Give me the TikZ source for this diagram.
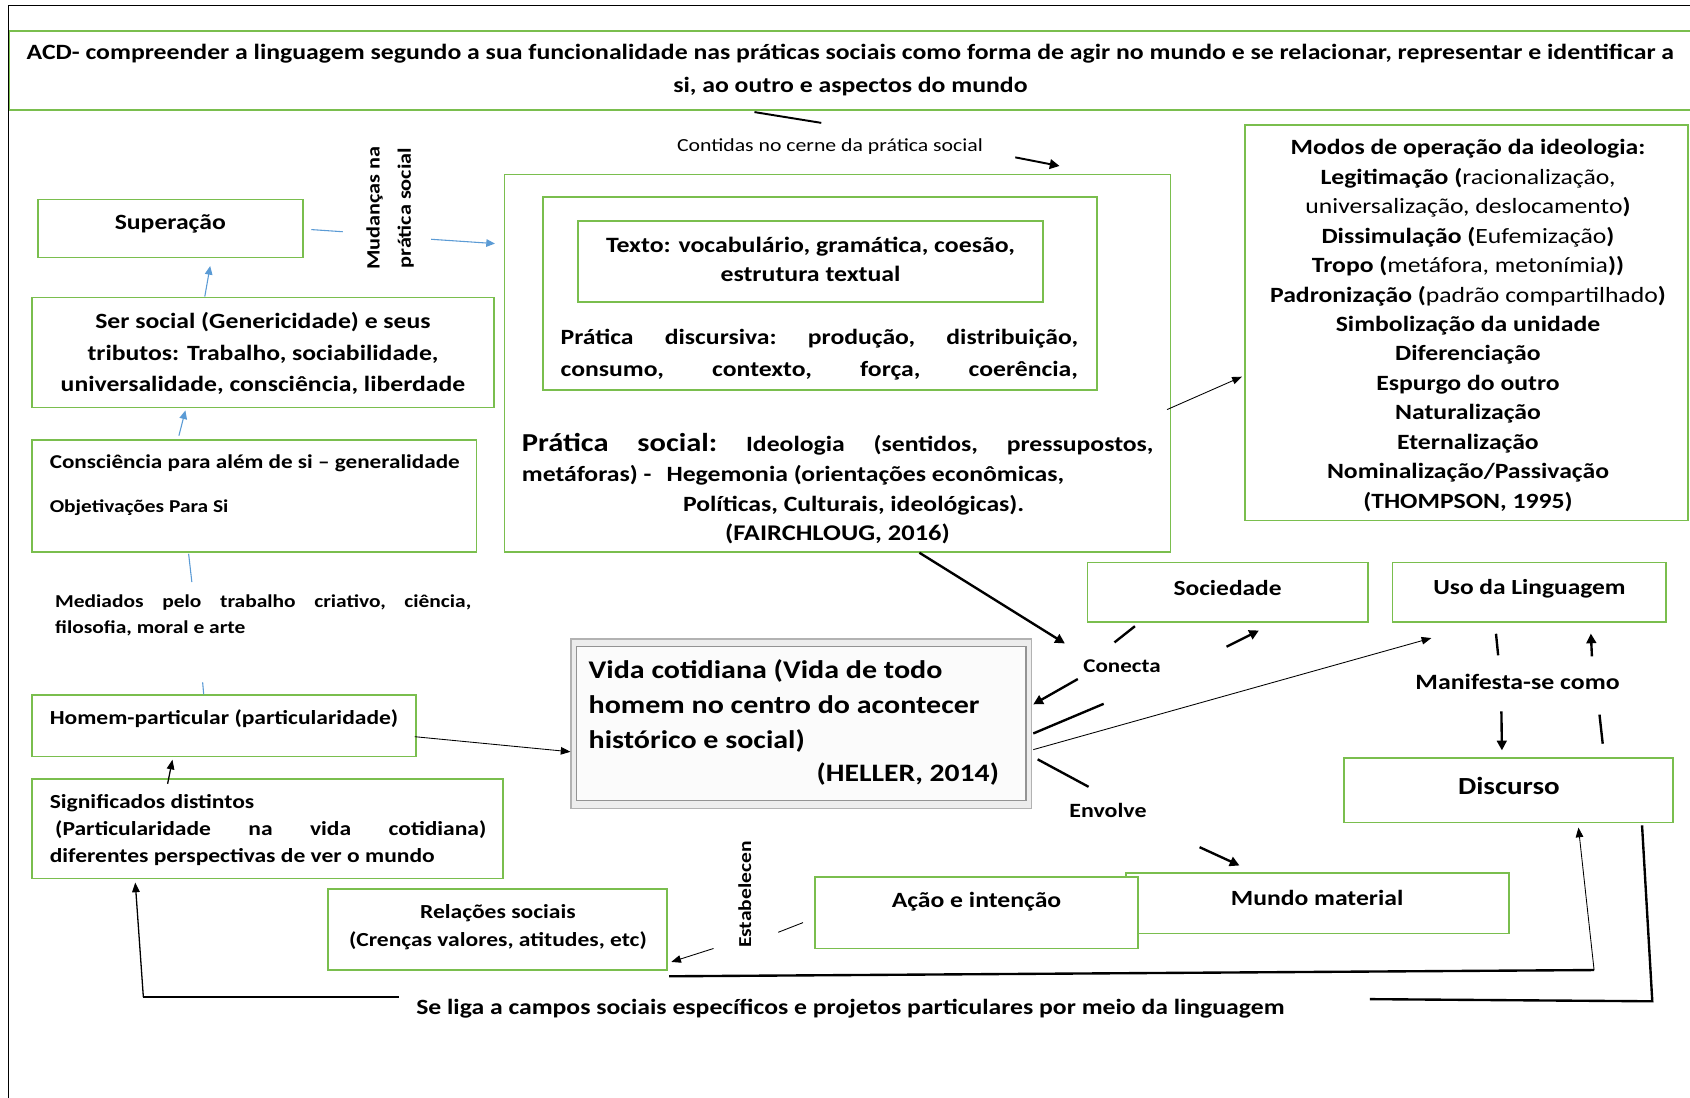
\documentclass[tikz,border=0pt]{standalone}
\usepackage{fontspec}
\setmainfont{Carlito}[FakeStretch=1.18]
\usetikzlibrary{arrows.meta,calc}
\definecolor{gr}{RGB}{122,190,78}
\definecolor{bl}{RGB}{91,155,213}
\newcommand{\fs}[2]{\fontsize{#1}{#2}\selectfont}
\begin{document}
\begin{tikzpicture}[x=1pt,y=-1pt,
  gbox/.style={draw=gr,line width=1.6pt,rectangle,inner sep=0pt,fill=white},
  txt/.style={font=\bfseries\fs{20.2}{29.5},inner sep=0pt},
  blarrow/.style={draw=bl,line width=1pt,-{Triangle[length=8pt,width=7pt]}},
  blline/.style={draw=bl,line width=1pt},
  karrow/.style={line width=2.2pt,-{Triangle[length=9pt,width=9pt]}},
  kline/.style={line width=2.2pt},
  marrow/.style={line width=1.2pt,-{Triangle[length=9pt,width=7pt]}},
  tarrow/.style={line width=0.8pt,-{Triangle[length=9pt,width=7pt]}},
  tline/.style={line width=0.8pt},
]
\useasboundingbox (0,0) rectangle (1568,1018);
\fill[white] (0,0) rectangle (1568,1018);
% outer frame
\draw[line width=1.2pt] (8,1025) -- (8,5) -- (1575,5);

% banner
\node[gbox,minimum width=1580pt,minimum height=73pt,anchor=north west] (banner) at (8,28) {};
\node[txt,font=\bfseries\fs{20.25}{30},align=center] (bantxt) at (789,65)
 {ACD- compreender a linguagem segundo a sua funcionalidade nas práticas sociais como forma de agir no mundo e se relacionar, representar e identificar a\\si, ao outro e aspectos do mundo};

% Contidas
\node[inner sep=0pt,font=\fs{17.1}{20}] (contidas) at (770,136) {Contidas no cerne da prática social};
\coordinate (c1a) at (700,104);
\coordinate (c1b) at (762,114);
\coordinate (c1c) at (942,146);
\coordinate (c1d) at (983,154);
\draw[kline,line width=1.8pt] (c1a) -- (c1b);
\draw[karrow,line width=1.8pt] (c1c) -- (c1d);

% left column
\node[gbox,minimum width=246pt,minimum height=54pt] (sup) at (158,212) {};
\node[txt] (suptxt) at (158,208) {Superação};

\node[txt,font=\bfseries\fs{17.5}{29},rotate=90,align=center] (mud) at (362,193) {Mudanças na\\prática social};

\node[gbox,minimum width=428pt,minimum height=102pt] (ser) at (244,327) {};
\node[txt,align=center] (sertxt) at (244,328) {Ser social (Genericidade) e seus\\tributos: Trabalho, sociabilidade,\\universalidade, consciência, liberdade};

\node[gbox,minimum width=412pt,minimum height=104pt] (cons) at (236,460) {};
\node[txt,font=\bfseries\fs{18.2}{22},anchor=west] (constxt) at (46,430) {Consciência para além de si – generalidade};
\node[txt,font=\bfseries\fs{16.8}{20},anchor=west] (objtxt) at (46,471) {Objetivações Para Si};

\node[txt,font=\bfseries\fs{16.85}{24},align=left,anchor=west] (med) at (51,571)
 {\hbox to 386pt{Mediados\hfill pelo\hfill trabalho\hfill criativo,\hfill ciência,}\\filosofia, moral e arte};

\node[gbox,minimum width=356pt,minimum height=57pt] (hom) at (208,673.5) {};
\node[txt,font=\bfseries\fs{18.5}{22},anchor=west] (homtxt) at (46,667) {Homem-particular (particularidade)};

\node[gbox,minimum width=437pt,minimum height=92pt] (sig) at (248.5,769) {};
\node[txt,font=\bfseries\fs{18.5}{25},align=left,anchor=west] (sigtxt) at (46,770)
 {Significados distintos\\\hspace*{5pt}\hbox to 400pt{(Particularidade\hfill na\hfill vida\hfill cotidiana)}\\diferentes perspectivas de ver o mundo};

% Pratica social nest
\node[gbox,minimum width=618pt,minimum height=350pt] (ps) at (777,337) {};
\node[gbox,minimum width=514pt,minimum height=179pt] (pd) at (761,272.5) {};
\node[gbox,minimum width=432pt,minimum height=75pt] (tx) at (752,242.5) {};
\node[txt,align=center,font=\bfseries\fs{20.3}{27}] (txtxt) at (752,241) {Texto: vocabulário, gramática, coesão,\\estrutura textual};
\node[txt,align=left,anchor=west] (pdtxt) at (520,329)
 {\hbox to 480pt{Prática\hfill discursiva:\hfill produção,\hfill distribuição,}\\\hbox to 480pt{consumo,\hfill contexto,\hfill força,\hfill coerência,}};
\node[txt,anchor=west] (ps1) at (484,412)
 {\hbox to 586pt{{\fs{24}{28}Prática\hfill social:}\hfill Ideologia\hfill (sentidos,\hfill pressupostos,}};
\node[txt,anchor=west] (ps2) at (484,441) {metáforas) -\hspace{14pt}Hegemonia (orientações econômicas,};
\node[txt] (ps3) at (792,469) {Políticas, Culturais, ideológicas).};
\node[txt,font=\bfseries\fs{20.8}{24}] (ps4) at (777,495) {(FAIRCHLOUG, 2016)};

% Modos
\node[gbox,minimum width=411pt,minimum height=367pt] (modos) at (1360.5,299.5) {};
\node[txt,font=\bfseries\fs{20.2}{27.35},align=center] (modtxt) at (1362,302)
 {Modos de operação da ideologia:\\
  Legitimação (\mdseries racionalização,\\
  \mdseries universalização, deslocamento\bfseries)\\
  Dissimulação (\mdseries Eufemização\bfseries)\\
  Tropo (\mdseries metáfora, metonímia\bfseries))\\
  Padronização (\mdseries padrão compartilhado\bfseries)\\
  Simbolização da unidade\\
  Diferenciação\\
  Espurgo do outro\\
  Naturalização\\
  Eternalização\\
  Nominalização/Passivação\\
  (THOMPSON, 1995)};

% Vida cotidiana
\node[draw=gray!60,line width=1.4pt,fill=gray!14,minimum width=427pt,minimum height=157pt,inner sep=0pt] (vida) at (743.5,671.5) {};
\node[draw=gray!85,line width=1.2pt,fill=gray!3,minimum width=417pt,minimum height=143pt,inner sep=0pt] (vidain) at (743.5,671.5) {};
\node[txt,font=\bfseries\fs{23.6}{32.5},align=left,anchor=west] (vidatxt) at (546,655)
 {Vida cotidiana (Vida de todo\\homem no centro do acontecer\\histórico e social)};
\node[txt,font=\bfseries\fs{23.3}{30},anchor=east] (heller) at (927,718) {(HELLER, 2014)};

% right middle
\node[gbox,minimum width=260pt,minimum height=55pt] (soc) at (1139,549.5) {};
\node[txt,font=\bfseries\fs{20}{24}] (soctxt) at (1139,546) {Sociedade};
\node[gbox,minimum width=254pt,minimum height=55pt] (uso) at (1419,549.5) {};
\node[txt,font=\bfseries\fs{20}{24}] (usotxt) at (1419,546) {Uso da Linguagem};
\node[txt,font=\bfseries\fs{20.3}{24}] (man) at (1408,633) {Manifesta-se como};
\node[gbox,minimum width=305pt,minimum height=60pt] (disc) at (1399.5,733) {};
\node[txt,font=\bfseries\fs{22.8}{26}] (disctxt) at (1400,729) {Discurso};
\node[txt,font=\bfseries\fs{18.1}{20}] (conecta) at (1041,618) {Conecta};
\node[txt,font=\bfseries\fs{18.8}{20}] (envolve) at (1028,752) {Envolve};

% bottom
\node[gbox,minimum width=355pt,minimum height=56pt] (mundo) at (1222.5,838) {};
\node[txt,font=\bfseries\fs{20.15}{24}] (mundotxt) at (1222,833) {Mundo material};
\node[gbox,minimum width=300pt,minimum height=66pt] (acao) at (906,847) {};
\node[txt,font=\bfseries\fs{20.2}{24}] (acaotxt) at (906,837) {Ação e intenção};
\node[gbox,minimum width=315pt,minimum height=75pt] (rel) at (461.5,862.5) {};
\node[txt,font=\bfseries\fs{18.5}{26},align=center] (reltxt) at (462,860) {Relações sociais\\(Crenças valores, atitudes, etc)};
\node[txt,font=\bfseries\fs{16.9}{22},rotate=90] (estab) at (691,830) {Estabelecen};
\node[txt,font=\bfseries\fs{20.2}{24},anchor=west] (seliga) at (386,936) {Se liga a campos sociais específicos e projetos particulares por meio da linguagem};

% ---- connectors ----
% left column (blue)
\draw[blline] ($(sup.east)+(7,1)$) -- (318,215);
\draw[blarrow] (400,222) -- ($(ps.west)+(-8,-111)$);
\draw[blarrow] ($(ser.north)+(-54,0)$) -- ($(sup.south)+(37,7)$);
\draw[blarrow] ($(cons.north)+(-70,-3)$) -- ($(ser.south)+(-72,2)$);
\draw[blline] ($(cons.south)+(-61,1)$) -- (178,540);
\coordinate (medlow) at (188,633);
\draw[blline] (medlow) -- ($(hom.north)+(-19,0)$);
% black
\draw[tarrow] ($(hom.east)+(-2,10)$) -- ($(vida.west)+(0,26)$);
\draw[marrow] ($(sig.north)+(-93,5)$) -- ($(hom.south)+(-48,2)$);

% conecta group
\draw[karrow] ($(ps.south)+(76,0)$) -- (988,597);
\coordinate (sa) at (1053,581); \coordinate (sb) at (1034,596);
\draw[kline] (sa) -- (sb);
\coordinate (sc) at (1138,600);
\draw[karrow] (sc) -- (1168,585);
\coordinate (va) at (1000,630);
\draw[karrow] (va) -- ($(vida.east)+(1,-18)$);
\coordinate (vb) at (1024,653);
\draw[kline] (vb) -- ($(vida.east)+(1,9)$);
\draw[tarrow] ($(vida.east)+(1,24)$) -- (1328,592);
\coordinate (ve) at (1010,730);
\draw[kline] ($(vida.east)+(5,33)$) -- (ve);
\coordinate (vf) at (1113,786);
\draw[karrow] (vf) -- (1150,803);

% to modos
\draw[tarrow] ($(ps.east)+(-4,43)$) -- ($(modos.west)+(-2,50)$);

% uso / discurso
\coordinate (u1) at (1388,588); \coordinate (u2) at (1390,608);
\draw[kline] (u1) -- (u2);
\coordinate (u3) at (1477,609);
\draw[karrow] (u3) -- ($(uso.south)+(57,10)$);
\coordinate (d1) at (1393,660);
\draw[karrow] (d1) -- ($(disc.north)+(-6,-6)$);
\coordinate (d2) at (1484,663); \coordinate (d3) at (1487,690);
\draw[kline] (d2) -- (d3);

% estabelecen
\coordinate (e1) at (745,856); \coordinate (e2) at (722,865);
\draw[tline] (e1) -- (e2);
\coordinate (e3) at (662,880);
\draw[tarrow] (e3) -- ($(rel.east)+(3,30)$);

% bottom loops
\draw[kline] ($(rel.south east)+(1,5)$) -- (1479,900);
\draw[tarrow] (1479,900) -- ($(disc.south)+(65,4)$);
\coordinate (bl1) at (1271,927);
\draw[kline] ($(disc.south)+(124,2)$) -- (1533,929) -- (bl1);
\coordinate (bl2) at (370,925);
\draw[kline] (bl2) -- (133,925);
\draw[marrow] (133,925) -- ($(sig.south)+(-123,3)$);
\end{tikzpicture}
\end{document}
